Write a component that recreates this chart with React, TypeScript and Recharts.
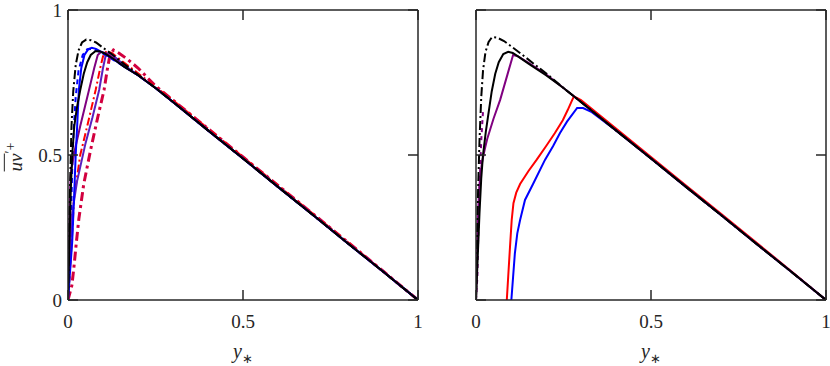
import React from 'react';
import { LineChart, Line, XAxis, YAxis } from 'recharts';

type P = [number, number];

const xTicks = [0, 0.5, 1];
const yTicks = [0, 0.5, 1];

// shared outer (linear) region
const outerTail: P[] = [[0.25, 0.731], [0.3, 0.683], [0.4, 0.585], [0.5, 0.488], [0.6, 0.39], [0.7, 0.293], [0.8, 0.195], [0.9, 0.098], [1, 0]];
const redTail: P[] = [[0.3, 0.689], [0.4, 0.591], [0.5, 0.493], [0.6, 0.395], [0.7, 0.297], [0.8, 0.199], [0.9, 0.1], [1, 0]];

// ---------- left panel ----------
const blackDashDotL: P[] = [[0, 0], [0.003, 0.2], [0.006, 0.4], [0.01, 0.6], [0.015, 0.72], [0.022, 0.81], [0.03, 0.86], [0.04, 0.888], [0.052, 0.898], [0.065, 0.896], [0.08, 0.888], [0.1, 0.87], [0.13, 0.843], [0.16, 0.814], [0.2, 0.777]];
const blueDashL: P[] = [[0, 0], [0.006, 0.12], [0.009, 0.3], [0.012, 0.45], [0.016, 0.58], [0.022, 0.7], [0.03, 0.79], [0.042, 0.845], [0.055, 0.865], [0.07, 0.866], [0.09, 0.856], [0.12, 0.835], [0.16, 0.806], [0.2, 0.775]];
const blueSolidL: P[] = [[0, 0], [0.006, 0.1], [0.012, 0.2], [0.017, 0.345], [0.022, 0.5], [0.027, 0.62], [0.031, 0.724], [0.038, 0.8], [0.047, 0.845], [0.058, 0.865], [0.068, 0.87], [0.08, 0.866], [0.1, 0.852], [0.13, 0.83], [0.16, 0.805], [0.2, 0.775]];
const purpleL: P[] = [[0, 0], [0.003, 0.2], [0.006, 0.38], [0.009, 0.448], [0.02, 0.52], [0.035, 0.6], [0.06, 0.724], [0.075, 0.8], [0.085, 0.845], [0.095, 0.856], [0.11, 0.85], [0.13, 0.834], [0.16, 0.806], [0.2, 0.775]];
const violetL: P[] = [[0, 0], [0.005, 0.15], [0.012, 0.3], [0.026, 0.41], [0.05, 0.54], [0.07, 0.63], [0.089, 0.724], [0.1, 0.8], [0.108, 0.845], [0.118, 0.853], [0.13, 0.842], [0.16, 0.81], [0.2, 0.776]];
const redDashDotL: P[] = [[0, 0], [0.008, 0.15], [0.013, 0.25], [0.017, 0.35], [0.035, 0.5], [0.055, 0.6], [0.079, 0.724], [0.092, 0.8], [0.1, 0.84], [0.11, 0.858], [0.125, 0.852], [0.15, 0.828], [0.2, 0.782], [0.25, 0.735]];
const crimsonDashDotL: P[] = [[0, 0], [0.011, 0.05], [0.017, 0.114], [0.024, 0.2], [0.031, 0.28], [0.045, 0.4], [0.065, 0.52], [0.085, 0.63], [0.103, 0.724], [0.113, 0.8], [0.12, 0.845], [0.13, 0.862], [0.145, 0.852], [0.17, 0.83], [0.2, 0.8], [0.25, 0.738]];
const blackSolidL: P[] = [[0, 0], [0.004, 0.2], [0.008, 0.38], [0.012, 0.5], [0.018, 0.6], [0.025, 0.66], [0.035, 0.724], [0.045, 0.78], [0.055, 0.82], [0.065, 0.845], [0.078, 0.858], [0.09, 0.858], [0.105, 0.85], [0.13, 0.831], [0.16, 0.805], [0.2, 0.775]];

// ---------- right panel ----------
const blackDashDotR: P[] = [[0, 0], [0.003, 0.2], [0.006, 0.38], [0.01, 0.55], [0.015, 0.7], [0.02, 0.79], [0.027, 0.855], [0.036, 0.89], [0.046, 0.907], [0.06, 0.905], [0.08, 0.893], [0.1, 0.875], [0.13, 0.848], [0.17, 0.81], [0.2, 0.782]];
const purpleDashR: P[] = [[0, 0], [0.004, 0.08], [0.006, 0.2], [0.008, 0.3], [0.011, 0.42], [0.015, 0.55], [0.02, 0.65]];
const purpleR: P[] = [[0, 0], [0.002, 0.12], [0.004, 0.22], [0.006, 0.3], [0.009, 0.38], [0.012, 0.43], [0.018, 0.48], [0.025, 0.52], [0.032, 0.555], [0.05, 0.625], [0.069, 0.69], [0.09, 0.778], [0.106, 0.845], [0.12, 0.84], [0.15, 0.818], [0.2, 0.778]];
const redR: P[] = [[0.088, 0], [0.092, 0.08], [0.097, 0.18], [0.102, 0.276], [0.107, 0.334], [0.115, 0.37], [0.126, 0.4], [0.15, 0.445], [0.173, 0.483], [0.2, 0.53], [0.225, 0.575], [0.248, 0.62], [0.262, 0.655], [0.275, 0.69], [0.28, 0.702]];
const blueR: P[] = [[0.101, 0], [0.106, 0.08], [0.111, 0.16], [0.118, 0.23], [0.126, 0.276], [0.14, 0.345], [0.163, 0.4], [0.197, 0.483], [0.22, 0.53], [0.24, 0.576], [0.26, 0.615], [0.289, 0.662], [0.306, 0.662], [0.331, 0.648], [0.4, 0.585]];
const blackSolidR: P[] = [[0, 0], [0.005, 0.15], [0.01, 0.3], [0.015, 0.42], [0.02, 0.5], [0.028, 0.58], [0.034, 0.63], [0.045, 0.72], [0.055, 0.78], [0.065, 0.82], [0.078, 0.848], [0.092, 0.856], [0.105, 0.852], [0.12, 0.84], [0.15, 0.815], [0.2, 0.775]];

const toData = (head: P[], tail: P[] = []) => {
  const last = head[head.length - 1][0];
  return [...head, ...tail.filter((p) => p[0] > last)].map(([x, v]) => ({ x, v }));
};

const FONT = '"Liberation Serif", "Times New Roman", serif';
const AXIS = '#262626';
const TICK = 10;
const AXW = 1.5;
const fmt = (v: number) => String(v);

const BottomTick = (props: any) => {
  const { x, y, payload } = props;
  return (
    <g>
      <line x1={x} x2={x} y1={y} y2={y - TICK} stroke={AXIS} strokeWidth={AXW} />
      <text x={x} y={y + 28} textAnchor="middle" fontFamily={FONT} fontSize={19} fill={AXIS}>
        {fmt(payload.value)}
      </text>
    </g>
  );
};
const TopTick = (props: any) => {
  const { x, y } = props;
  return <line x1={x} x2={x} y1={y} y2={y + TICK} stroke={AXIS} strokeWidth={AXW} />;
};
const LeftTickLabeled = (props: any) => {
  const { x, y, payload } = props;
  return (
    <g>
      <line x1={x} x2={x + TICK} y1={y} y2={y} stroke={AXIS} strokeWidth={AXW} />
      <text x={x - 6} y={y + 7} textAnchor="end" fontFamily={FONT} fontSize={19} fill={AXIS}>
        {fmt(payload.value)}
      </text>
    </g>
  );
};
const LeftTick = (props: any) => {
  const { x, y } = props;
  return <line x1={x} x2={x + TICK} y1={y} y2={y} stroke={AXIS} strokeWidth={AXW} />;
};
const RightTick = (props: any) => {
  const { x, y } = props;
  return <line x1={x} x2={x - TICK} y1={y} y2={y} stroke={AXIS} strokeWidth={AXW} />;
};

type S = { data: P[]; tail?: P[]; color: string; width: number; dash?: string };

const leftSeries: S[] = [
  { data: blueDashL, tail: outerTail, color: '#0000ff', width: 2, dash: '5 4' },
  { data: crimsonDashDotL, tail: redTail, color: '#d2003f', width: 3, dash: '9 4 3 4' },
  { data: redDashDotL, tail: redTail, color: '#ff0000', width: 2, dash: '8 3 2 3' },
  { data: violetL, tail: outerTail, color: '#5a1fc0', width: 2 },
  { data: purpleL, tail: outerTail, color: '#800080', width: 2 },
  { data: blueSolidL, tail: outerTail, color: '#0000ff', width: 2 },
  { data: blackDashDotL, tail: outerTail, color: '#000000', width: 2, dash: '9 3 2 3' },
  { data: blackSolidL, tail: outerTail, color: '#000000', width: 2 },
];

const rightSeries: S[] = [
  { data: purpleDashR, color: '#800080', width: 2, dash: '4 4' },
  { data: redR, tail: redTail, color: '#ff0000', width: 2 },
  { data: blueR, tail: outerTail, color: '#0000ff', width: 2 },
  { data: purpleR, tail: outerTail, color: '#800080', width: 2 },
  { data: blackDashDotR, tail: outerTail, color: '#000000', width: 2, dash: '9 3 2 3' },
  { data: blackSolidR, tail: outerTail, color: '#000000', width: 2 },
];

const axisLine = { stroke: AXIS, strokeWidth: AXW };

const Panel = ({ series, margin, labeled }: { series: S[]; margin: any; labeled: boolean }) => (
  <LineChart width={830} height={366} margin={margin} style={{ position: 'absolute', left: 0, top: 0 }}>
    <XAxis
      xAxisId="b"
      dataKey="x"
      type="number"
      domain={[0, 1]}
      ticks={xTicks}
      allowDataOverflow
      height={1}
      tickSize={0}
      tickMargin={0}
      tickLine={false}
      axisLine={axisLine}
      interval={0}
      tick={<BottomTick />}
    />
    <XAxis
      xAxisId="t"
      orientation="top"
      dataKey="x"
      type="number"
      domain={[0, 1]}
      ticks={xTicks}
      allowDataOverflow
      height={1}
      tickSize={0}
      tickMargin={0}
      tickLine={false}
      axisLine={axisLine}
      interval={0}
      tick={<TopTick />}
    />
    <YAxis
      yAxisId="l"
      type="number"
      domain={[0, 1]}
      ticks={yTicks}
      allowDataOverflow
      width={1}
      tickSize={0}
      tickMargin={0}
      tickLine={false}
      axisLine={axisLine}
      interval={0}
      tick={labeled ? <LeftTickLabeled /> : <LeftTick />}
    />
    <YAxis
      yAxisId="r"
      orientation="right"
      type="number"
      domain={[0, 1]}
      ticks={yTicks}
      allowDataOverflow
      width={1}
      tickSize={0}
      tickMargin={0}
      tickLine={false}
      axisLine={axisLine}
      interval={0}
      tick={<RightTick />}
    />
    {series.map((s, i) => (
      <Line
        key={i}
        xAxisId="b"
        yAxisId="l"
        data={toData(s.data, s.tail)}
        dataKey="v"
        type="linear"
        stroke={s.color}
        strokeWidth={s.width}
        strokeDasharray={s.dash}
        dot={false}
        activeDot={false}
        isAnimationActive={false}
      />
    ))}
  </LineChart>
);

export default function App() {
  return (
    <div style={{ position: 'absolute', left: 0, top: 0, width: 830, height: 366, background: '#fff' }}>
      <Panel series={leftSeries} margin={{ top: 9, right: 411, left: 67, bottom: 65 }} labeled />
      <Panel series={rightSeries} margin={{ top: 9, right: 3, left: 475, bottom: 65 }} labeled={false} />
      <div
        style={{
          position: 'absolute',
          left: 15,
          top: 157,
          transform: 'translate(-50%, -50%) rotate(-90deg)',
          fontFamily: FONT,
          fontSize: 19,
          color: AXIS,
          whiteSpace: 'nowrap',
        }}
      >
        <span style={{ textDecoration: 'overline', fontStyle: 'italic' }}>uv</span>
        <sup style={{ fontSize: 14 }}>′+</sup>
      </div>
      {[243, 651].map((cx) => (
        <div
          key={cx}
          style={{
            position: 'absolute',
            left: cx,
            top: 353,
            transform: 'translate(-50%, -50%)',
            fontFamily: FONT,
            fontSize: 20,
            color: AXIS,
            whiteSpace: 'nowrap',
          }}
        >
          <i>y</i>
          <sub style={{ fontSize: 13 }}>∗</sub>
        </div>
      ))}
    </div>
  );
}
